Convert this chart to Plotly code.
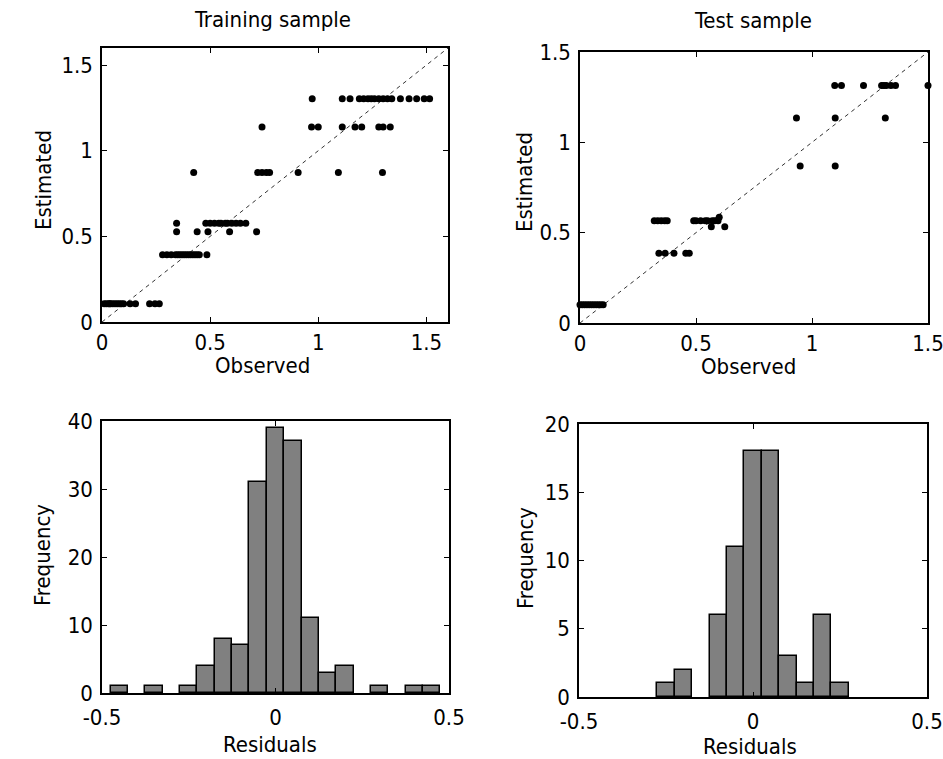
import plotly.graph_objects as go

# ---------------- data ----------------
# Training sample: observed vs estimated
train_obs = [0.01, 0.02, 0.03, 0.035, 0.04, 0.05, 0.06, 0.07, 0.08, 0.09, 0.10, 0.13, 0.155, 0.22, 0.245, 0.265,
             0.28, 0.30, 0.32, 0.34, 0.35, 0.36, 0.37, 0.38, 0.39, 0.40, 0.41, 0.42, 0.43, 0.44, 0.45, 0.485,
             0.345, 0.44, 0.49, 0.59, 0.715,
             0.345, 0.48, 0.50, 0.52, 0.54, 0.55, 0.57, 0.58, 0.60, 0.62, 0.64, 0.665,
             0.424, 0.72, 0.74, 0.76, 0.775, 0.907, 1.093, 1.297,
             0.74, 0.969, 1.0, 1.111, 1.17, 1.201, 1.28, 1.30, 1.333,
             0.972, 1.111, 1.147, 1.19, 1.21, 1.23, 1.245, 1.26, 1.28, 1.30, 1.32, 1.34,
             1.38, 1.42, 1.455, 1.49, 1.515]
train_est = [0.107] * 16 + [0.393] * 16 + [0.527] * 5 + [0.576] * 12 + [0.873] * 8 + [1.138] * 9 + [1.304] * 17

# Test sample: observed vs estimated
test_obs = [0.0, 0.01, 0.02, 0.03, 0.04, 0.05, 0.06, 0.07, 0.08, 0.09, 0.10,
            0.34, 0.367, 0.405, 0.456, 0.471,
            0.32, 0.335, 0.35, 0.365, 0.376, 0.49, 0.50, 0.52, 0.54, 0.55, 0.57, 0.58, 0.595,
            0.60, 0.566, 0.624,
            0.949, 1.10,
            0.933, 1.10, 1.316,
            1.098, 1.127, 1.222, 1.30, 1.31, 1.32, 1.34, 1.36, 1.50]
test_est = [0.101] * 11 + [0.386] * 5 + [0.566] * 13 + [0.585, 0.533, 0.533] + [0.869] * 2 + [1.135] * 3 + [1.315] * 9

# Identity reference lines
diag_train = [0, 1.6]
diag_test = [0, 1.5]

# Residual histograms (bin centres and counts)
train_bins = [-0.45, -0.35, -0.25, -0.20, -0.15, -0.10, -0.05, 0.0, 0.05, 0.10, 0.15, 0.20, 0.30, 0.40, 0.45]
train_counts = [1, 1, 1, 4, 8, 7, 31, 39, 37, 11, 3, 4, 1, 1, 1]
test_bins = [-0.25, -0.20, -0.10, -0.05, 0.0, 0.05, 0.10, 0.15, 0.20, 0.25]
test_counts = [1, 2, 6, 11, 18, 18, 3, 1, 6, 1]
bin_width = 0.05

# tick labels
ticks_scatter = [0, 0.5, 1, 1.5]
ticks_resid = [-0.5, 0, 0.5]
ticks_freq_train = [0, 10, 20, 30, 40]
ticks_freq_test = [0, 5, 10, 15, 20]

# ---------------- figure ----------------
W, H = 943, 759
FONT = "Liberation Sans Narrow, Arial Narrow, DejaVu Sans Condensed, Liberation Sans, Arial, sans-serif"
FS = 22

fig = go.Figure()

marker = dict(color="black", size=7, symbol="circle", line=dict(width=0))
dash_line = dict(color="#333333", width=1, dash="4px,4px")

fig.add_trace(go.Scatter(x=diag_train, y=diag_train, mode="lines", line=dash_line, xaxis="x", yaxis="y", hoverinfo="skip"))
fig.add_trace(go.Scatter(x=train_obs, y=train_est, mode="markers", marker=marker, xaxis="x", yaxis="y", cliponaxis=False))
fig.add_trace(go.Scatter(x=diag_test, y=diag_test, mode="lines", line=dash_line, xaxis="x2", yaxis="y2", hoverinfo="skip"))
fig.add_trace(go.Scatter(x=test_obs, y=test_est, mode="markers", marker=marker, xaxis="x2", yaxis="y2", cliponaxis=False))

bar_marker = dict(color="#808080", line=dict(color="black", width=1.5))
fig.add_trace(go.Bar(x=train_bins, y=train_counts, width=bin_width, marker=bar_marker, xaxis="x3", yaxis="y3"))
fig.add_trace(go.Bar(x=test_bins, y=test_counts, width=bin_width, marker=bar_marker, xaxis="x4", yaxis="y4"))


def px_dom_x(a, b):
    return [a / W, b / W]


def px_dom_y(top, bottom):
    return [1 - bottom / H, 1 - top / H]


def ax(domain, rng, tickvals, anchor, labstand):
    return dict(
        domain=domain, range=rng, tickvals=tickvals, ticktext=[f"{v:g}" for v in tickvals],
        showline=True, linecolor="black", linewidth=1.5, mirror="ticks",
        ticks="inside", ticklen=5, tickwidth=1, tickcolor="black",
        showgrid=False, zeroline=False, anchor=anchor, automargin=False,
        ticklabelstandoff=labstand, ticklabeloverflow="allow",
        tickfont=dict(family=FONT, size=FS, color="black"),
        fixedrange=True,
    )


def label(text, xpx, ypx, angle=0):
    return dict(text=text, x=xpx / W, y=1 - ypx / H, xref="paper", yref="paper", textangle=angle,
                showarrow=False, xanchor="center", yanchor="middle",
                font=dict(family=FONT, size=FS, color="black"))


fig.update_layout(
    width=W, height=H,
    margin=dict(l=0, r=0, t=0, b=0),
    paper_bgcolor="white", plot_bgcolor="white",
    showlegend=False, bargap=0,
    font=dict(family=FONT, size=FS, color="black"),
    xaxis=ax(px_dom_x(102, 448), [0, 1.6], ticks_scatter, "y", 0),
    yaxis=ax(px_dom_y(48, 322), [0, 1.6], ticks_scatter, "x", 3),
    xaxis2=ax(px_dom_x(580, 928), [0, 1.5], ticks_scatter, "y2", 0),
    yaxis2=ax(px_dom_y(52, 323), [0, 1.5], ticks_scatter, "x2", 3),
    xaxis3=ax(px_dom_x(102, 449), [-0.5, 0.5], ticks_resid, "y3", 4),
    yaxis3=ax(px_dom_y(421, 693), [0, 40], ticks_freq_train, "x3", 3),
    xaxis4=ax(px_dom_x(579, 927), [-0.5, 0.5], ticks_resid, "y4", 4),
    yaxis4=ax(px_dom_y(424, 697), [0, 20], ticks_freq_test, "x4", 3),
    annotations=[
        label("Training sample", 272, 19),
        label("Test sample", 753, 21),
        label("Observed", 262, 365),
        label("Observed", 748, 367),
        label("Residuals", 270, 744),
        label("Residuals", 750, 746),
        label("Estimated", 44, 180, -90),
        label("Estimated", 524, 182, -90),
        label("Frequency", 42, 555, -90),
        label("Frequency", 525, 558, -90),
    ],
)

fig.write_html(
    "out.html",
    config={"displayModeBar": False},
    post_script="document.body.style.margin='0';document.body.style.padding='0';document.body.style.overflow='hidden';",
)
